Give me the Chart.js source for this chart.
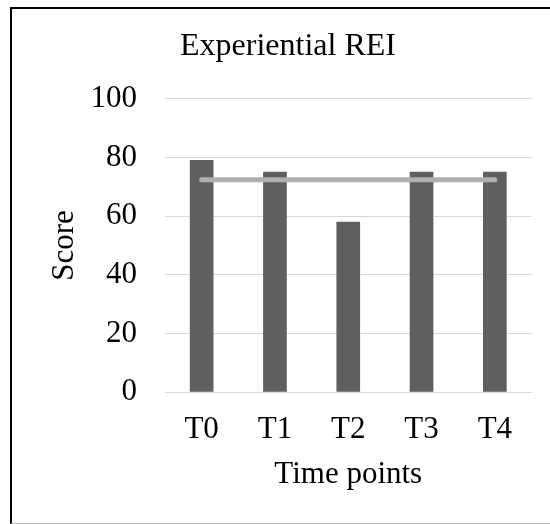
<!DOCTYPE html>
<html>
<head>
<meta charset="utf-8">
<script src="https://cdn.jsdelivr.net/npm/chart.js@4"></script>
<style>
  html, body { margin: 0; padding: 0; background: #fff; overflow: hidden; width: 550px; height: 524px; }
  #frame { position: absolute; left: 10px; top: 7px; width: 600px; height: 517px; box-sizing: border-box;
           border-top: 2px solid #000; border-left: 2px solid #000; border-bottom: 1px solid #bfbfbf; }
  #c { position: absolute; left: 0; top: 0; }
</style>
</head>
<body>
<div id="frame"></div>
<canvas id="c" width="576" height="524"></canvas>
<script>
const chartTitle = 'Experiential REI';
const categories = ['T0', 'T1', 'T2', 'T3', 'T4'];
const scores = [79, 75, 58, 75, 75];
const meanLine = [72.4, 72.4, 72.4, 72.4, 72.4];
const yTitle = 'Score';
const xTitle = 'Time points';
const yMin = 0, yMax = 100, yStep = 20;

const FONT = "'Liberation Serif', 'Times New Roman', serif";
const FS = 31;

new Chart(document.getElementById('c'), {
  data: {
    labels: categories,
    datasets: [
      {
        type: 'line',
        data: meanLine,
        borderColor: '#afafaf',
        borderWidth: 5,
        borderCapStyle: 'round',
        pointRadius: 0,
        fill: false,
        order: 0
      },
      {
        type: 'bar',
        data: scores,
        backgroundColor: '#5f5f5f',
        barThickness: 23,
        order: 1
      }
    ]
  },
  options: {
    responsive: false,
    devicePixelRatio: 1,
    animation: false,
    layout: { padding: { left: 0, right: 0, top: 0, bottom: 30.9 } },
    plugins: {
      legend: { display: false },
      tooltip: { enabled: false },
      title: {
        display: true,
        text: chartTitle,
        color: '#000',
        font: { family: FONT, size: 32, weight: 'normal' },
        padding: { top: 27.6, bottom: 32.9 }
      }
    },
    scales: {
      x: {
        grid: { display: false, drawTicks: false },
        border: { display: true, color: '#d9d9d9', width: 1 },
        ticks: { color: '#000', font: { family: FONT, size: FS }, padding: 18.9, maxRotation: 0 },
        title: { display: true, text: xTitle, color: '#000', font: { family: FONT, size: FS }, padding: { top: 0, bottom: 0 } },
        afterFit: (s) => { s.height = 101.1; }
      },
      y: {
        min: yMin, max: yMax,
        grid: { color: '#d9d9d9', lineWidth: 1, drawTicks: false },
        border: { display: false },
        ticks: { stepSize: yStep, color: '#000', font: { family: FONT, size: FS }, padding: 28 },
        title: { display: true, text: yTitle, color: '#000', font: { family: FONT, size: FS }, padding: { top: 45.9, bottom: 0 } },
        afterFit: (s) => { s.width = 165; }
      },
      yRight: {
        position: 'right',
        display: true,
        min: yMin, max: yMax,
        grid: { display: false, drawTicks: false },
        border: { display: false },
        ticks: { display: false },
        afterFit: (s) => { s.width = 44.5; }
      }
    }
  }
});
</script>
</body>
</html>
